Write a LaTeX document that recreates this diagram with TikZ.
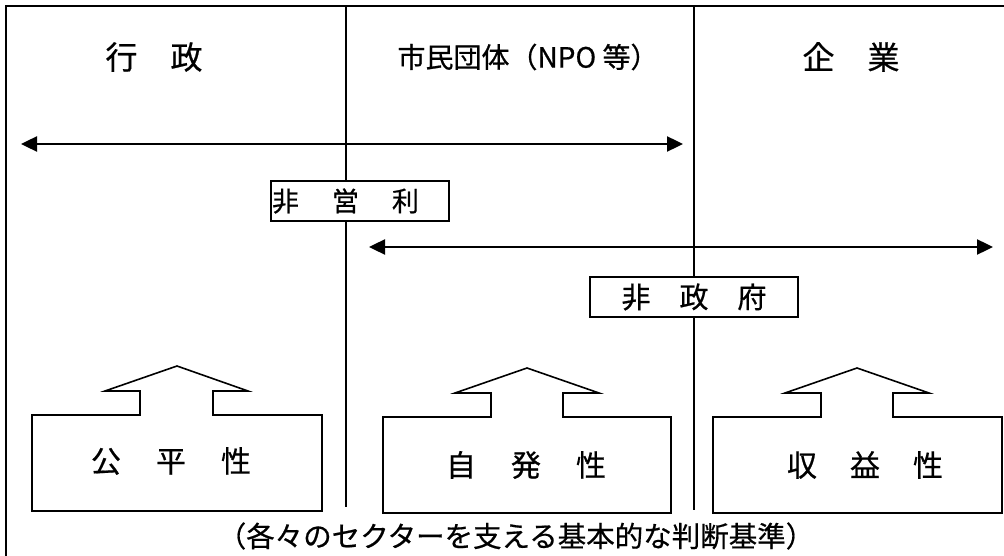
\documentclass[tikz,border=0pt]{standalone}
\usepackage{fontspec}
\newfontfamily\jp[FakeBold=0.6]{Noto Sans CJK JP}
\usetikzlibrary{arrows.meta}
\begin{document}
\begin{tikzpicture}[x=1pt,y=-1pt,
  frameline/.style={line width=1.8pt},
  divider/.style={line width=1.5pt},
  span/.style={line width=2.4pt,>={Triangle[length=16pt,width=15pt]},<->},
  labelbox/.style={draw,line width=2pt,fill=white,minimum height=40pt,inner sep=0pt},
  basis/.style={draw,line width=1.6pt,line join=miter},
  colhead/.style={inner sep=0pt,font=\jp\fontsize{32}{34}\selectfont},
  colheadsmall/.style={inner sep=0pt,font=\jp\fontsize{28}{30}\selectfont},
  basistext/.style={inner sep=0pt,font=\jp\fontsize{30}{32}\selectfont},
  captiontext/.style={inner sep=0pt,font=\jp\fontsize{28.5}{30}\selectfont}
]
\useasboundingbox (0,0) rectangle (1004,556);

% outer frame
\coordinate (frameBL) at (6,556);
\coordinate (frameTL) at (6,6);
\coordinate (frameTR) at (1004,6);
\draw[frameline] (frameBL) -- (frameTL) -- (frameTR);

% sector dividers
\coordinate (d1top) at (346,6);
\coordinate (d1bot) at (346,507);
\coordinate (d2top) at (694,6);
\coordinate (d2bot) at (694,510);
\draw[divider] (d1top) -- (d1bot);
\draw[divider] (d2top) -- (d2bot);

% column headings
\node[colhead] (gyosei) at (154,57) {行\hspace{33pt}政};
\node[colheadsmall] (shimin) at (528,57) {市民団体（NPO 等）};
\node[colhead] (kigyo) at (851,57) {企\hspace{33pt}業};

% span arrows
\coordinate (a1l) at (21,144);
\coordinate (a1r) at (683,144);
\coordinate (a2l) at (369,247);
\coordinate (a2r) at (993,247);
\draw[span] (a1l) -- (a1r);
\draw[span] (a2l) -- (a2r);

% labels
\node[labelbox,minimum width=178pt,text width=176pt,align=left,
      font=\jp\fontsize{27}{29}\selectfont] (hieiri) at (360,201)
      {非\hspace{33pt}営\hspace{33pt}利};
\node[labelbox,minimum width=208pt,
      font=\jp\fontsize{29}{31}\selectfont] (hiseifu) at (694,297)
      {非\hspace{29pt}政\hspace{29pt}府};

% basis shapes
\draw[basis] (32,511) -- (32,415) -- (140,415) -- (140,391) -- (105,391) -- (177,366)
  -- (248,391) -- (213,391) -- (213,415) -- (322,415) -- (322,511) -- cycle;
\draw[basis] (383,513) -- (383,417) -- (491,417) -- (491,393) -- (455,393) -- (527,368)
  -- (599,393) -- (563,393) -- (563,417) -- (671,417) -- (671,513) -- cycle;
\draw[basis] (713,513) -- (713,417) -- (821,417) -- (821,393) -- (785,393) -- (857,368)
  -- (929,393) -- (893,393) -- (893,417) -- (1002,417) -- (1002,513) -- cycle;

\node[basistext] (kohei) at (171,461) {公\hspace{35pt}平\hspace{35pt}性};
\node[basistext] (jihatsu) at (526,465) {自\hspace{35pt}発\hspace{35pt}性};
\node[basistext] (shueki) at (865,465) {収\hspace{33pt}益\hspace{33pt}性};

% caption
\node[captiontext] (kijun) at (516,536) {（各々のセクターを支える基本的な判断基準）};
\end{tikzpicture}
\end{document}
